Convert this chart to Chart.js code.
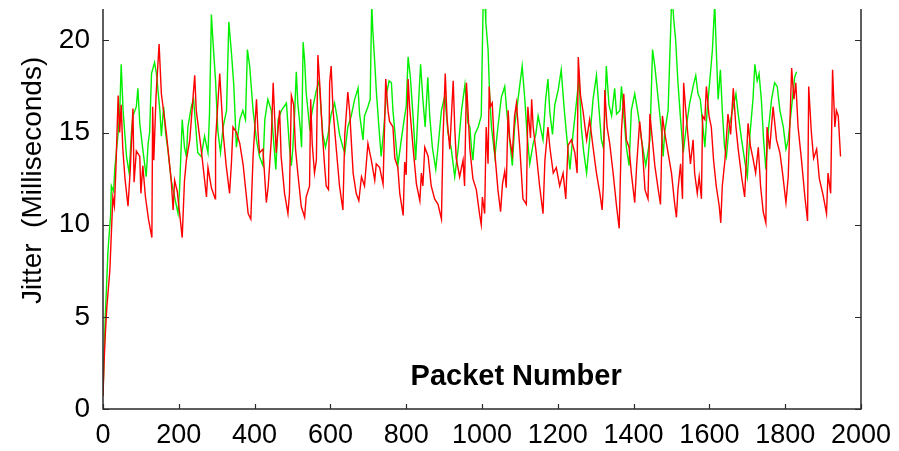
<!DOCTYPE html>
<html>
<head>
<meta charset="utf-8">
<script src="https://cdn.jsdelivr.net/npm/chart.js@4/dist/chart.umd.min.js"></script>
<style>
  html, body { margin: 0; padding: 0; background: #fff; }
  #wrap { width: 899px; height: 451px; position: relative; }
</style>
</head>
<body>
<div id="wrap"><canvas id="jitterChart"></canvas></div>
<script>
// axis ticks
const xTicks = [0, 200, 400, 600, 800, 1000, 1200, 1400, 1600, 1800, 2000];
const yTicks = [0, 5, 10, 15, 20];

// red series (packet number, jitter ms)
const redPackets = [0,3,6,10,14,18,22,26,30,34,40,44,48,52,58,66,72,79,82,88,97,100,105,112,120,129,131,134,140,148,154,167,180,185,189,196,209,215,220,229,242,246,259,273,277,286,296,297,308,317,325,334,339,343,352,361,370,383,390,396,405,409,413,422,431,436,444,449,453,457,466,470,479,488,
  492,497,503,508,514,523,532,536,545,548,552,558,563,567,572,579,585,589,595,598,602,607,616,624,633,638,646,651,655,660,668,675,682,690,699,708,717,721,730,739,746,752,756,765,770,778,783,792,796,800,805,809,818,827,836,840,844,849,858,866,875,884,893,897,903,908,915,924,928,932,941,950,954,959,963,968,976,985,994,
  998,1001,1007,1011,1016,1019,1022,1027,1033,1042,1049,1054,1060,1064,1069,1073,1080,1086,1091,1100,1108,1117,1121,1128,1131,1135,1143,1152,1161,1166,1174,1179,1188,1196,1205,1214,1221,1227,1236,1245,1251,1254,1260,1267,1276,1284,1293,1302,1311,1317,1320,1324,1330,1337,1346,1355,1362,1368,1374,1381,1388,1394,1403,1408,1416,1423,1430,1438,1443,1450,1456,1465,1471,1476,1482,1491,
  1500,1508,1513,1517,1524,1529,1532,1538,1544,1550,1557,1561,1568,1573,1579,1582,1588,1592,1599,1605,1611,1618,1626,1630,1634,1641,1649,1656,1663,1670,1676,1685,1693,1702,1708,1715,1722,1729,1735,1742,1749,1752,1759,1768,1777,1786,1793,1802,1808,1817,1823,1828,1834,1843,1852,1859,1862,1869,1875,1883,1890,1900,1909,1913,1920,1925,1931,1935,1940,1946];
const redJitter = [0.7,2.6,4,5.5,6.5,7.5,9.5,11.5,11,13,17,15,16.5,14.2,12.5,11,13,16.3,12.3,14,13.7,11.7,13.2,11.5,10.3,9.3,16.4,13.5,17,19.8,17.1,15,12.4,10.8,12.4,11.8,9.3,12.4,13.5,14.6,18.1,16.2,14.1,11.5,13.1,12,11.4,14.6,18.2,15,13.2,11.7,13.4,15.3,15,14.4,13.2,10.6,10.3,13.7,16.8,15,13.9,14.1,11.2,12.1,14.6,17.7,15.8,13.9,16.2,13.7,11.7,10.6,
  11.7,17,16.5,14.1,12.8,11,10.4,11.5,12.1,16.8,14.4,12.8,13.5,19.2,17.6,14.9,13.1,12.1,11.9,17.7,18.6,16.2,14,12.1,10.8,14.9,17.2,16.1,14.6,12.8,11.7,11.3,12.6,12.1,14.4,13.5,12.4,13.3,13.1,12.2,17.9,16.2,15.6,15.3,13.6,13.1,11.7,10.5,13.4,12.7,17.9,16.4,14.2,12.2,11.3,12.8,12.1,14.2,13.7,12.1,11.4,11.1,10.3,14.6,18.2,15.7,14.1,17.8,15.3,13.6,12.6,13.5,12.1,17.7,16.2,14.1,12.5,11.9,10.5,
  10,11.5,10.6,15.3,13.3,17.5,16.4,16.6,14.1,11.9,10.7,12.2,12.9,12,16.2,14.7,13.8,15.9,16.6,14.1,11.4,11.1,16.4,14.7,16.8,15.3,13.9,12.1,10.6,13.5,15.3,14.2,12.8,13.1,12.1,12.8,11.4,14.3,14.6,13.9,12.8,19.1,17,16.1,14.6,15.7,14.2,12.8,11.7,10.8,12.1,17.3,15.3,14.4,12.8,11,9.8,15.1,17.1,14.6,14.2,12.8,11.2,13.2,15.6,14.2,11.9,11.4,16,14.5,13.2,11.9,11.1,15.9,15,13.9,
  12.8,11.2,10.4,11.9,13.3,11.4,17.7,16.1,14.7,13.3,14.6,12.8,11.7,12.6,11.4,15.9,15.7,17.5,15.9,15.3,13.5,12.1,11,10.1,12.1,13.5,16,14.9,17.4,15.3,14.1,12.6,11.5,15.5,14.3,13.6,12.8,14.2,12.1,10.7,10.1,15.3,14.1,16.4,14.6,13.9,12.8,11.2,12.6,18.5,16.8,17.7,15.3,13.5,11.5,10.2,17.5,15,13.6,14.1,12.5,11.6,10.6,12.8,11.7,18.4,15.3,16.2,15.9,13.7];

// green series (packet number, jitter ms)
const greenPackets = [0,3,6,9,13,16,20,22,28,31,35,40,44,48,53,62,69,75,79,88,92,97,105,114,119,123,128,136,141,150,154,160,165,171,180,189,198,202,209,215,220,224,233,239,244,250,259,268,277,281,286,290,297,303,310,317,326,332,339,345,352,361,369,376,381,387,396,405,413,422,427,435,444,456,462,471,484,492,497,501,506,510,514,521,524,528,532,536,545,554,563,570,576,580,587,594,602,611,617,624,633,638,646,655,664,673,677,686,690,699,705,709,712,717,721,728,734,740,748,755,761,765,772,778,787,796,800,805,811,818,825,831,838,844,850,857,862,869,878,884,893,902,910,919,928,937,946,955,963,968,972,976,981,990,998,
  1003,1008,1010,1016,1020,1025,1034,1042,1051,1060,1066,1073,1080,1086,1095,1106,1113,1119,1126,1135,1142,1148,1154,1161,1168,1174,1179,1186,1192,1201,1209,1216,1223,1232,1240,1247,1256,1262,1268,1276,1284,1293,1302,1309,1315,1320,1324,1328,1335,1342,1350,1355,1364,1368,1374,1381,1388,1394,1403,1412,1421,1432,1443,1450,1456,1465,1474,1478,1482,1491,
  1500,1503,1506,1511,1517,1524,1531,1539,1548,1557,1564,1570,1576,1583,1588,1594,1601,1608,1614,1618,1623,1629,1634,1640,1645,1652,1661,1670,1676,1685,1693,1700,1707,1715,1720,1726,1731,1737,1743,1749,1755,1764,1772,1779,1786,1795,1802,1808,1817,1825,1830];
const greenJitter = [0.7,3,5,6.5,8.5,9.4,10.5,12.1,11.8,13,13.9,15,16,18.7,16.2,13.7,12.8,15,15.9,16.4,17.4,15.5,14.1,12.6,14.4,15,18.2,18.8,18.2,16.2,14.8,16.4,15,14.1,12.4,11.5,10.6,11.9,15.7,14.2,13.7,15.3,16.4,16.8,15.5,13.9,13.7,14.8,13.9,16,21.4,20,17.8,15.1,13.9,15.3,16.2,21,19.3,17.6,14.2,15.7,16.2,15.7,19.5,18.6,16.2,14.6,13.7,13.2,15.7,16.8,16.2,13,15.7,16.2,16.6,14.2,13.2,14.2,16.2,18.3,16.6,15.1,14.2,19.9,18.9,17.2,15.3,16.4,17.3,17.8,16,14.9,14.2,14.9,16,16.6,15.9,14.9,14.2,13.9,15.3,15.9,16.8,17.4,16,14.6,15.9,16.4,16.8,22,20.5,18.8,17.3,15.3,13.7,15,17.1,17.8,17.7,16.2,14.6,13.2,14.6,15.9,16.4,19.1,18,15.9,13.5,16,18.7,16.8,15.3,18,15.9,14.2,13,14.2,16.2,17,15,14.1,12.6,14.1,16.2,17.6,15.5,15.3,14.2,13.5,14.9,15.3,15.9,
  22,22,21,19.5,17.1,15.3,13.7,15.3,16.9,17.5,16,14.6,13.2,15.3,16.8,18.6,16.8,14.9,13.3,14.4,14.9,15.9,15.3,14.6,16.8,17.9,16.1,14.9,16.5,17.3,18.4,16.5,14.9,13,14.9,16.2,18,15.3,14,12.8,14.6,16.8,18.1,16.2,14.6,14.2,15.9,18.6,16.5,15.9,17.4,16,16.2,17.5,16,14.2,13.2,16.2,17.1,16,14.6,13.2,14.6,19.5,18.6,16.8,15,13.7,15,16.2,
  22,22,21.1,20,17.7,15.7,13.9,15.3,16.6,17.5,18.1,17.1,16.8,15.3,14.2,16.2,17.8,19.5,22,19.6,16.8,18.4,16.2,14.2,13.7,15.3,16.2,17.1,16,14.6,13.5,12.6,14.9,16.8,18.7,17.8,18.2,16.8,14.6,13,15,16.8,17.7,17.5,16.2,15.3,14.1,14.6,16.4,18,18.3];

const toPoints = (xs, ys) => xs.map((v, i) => ({ x: v, y: ys[i] }));

const FONT = "'Liberation Sans', Arial, Helvetica, sans-serif";

// 軸線・内向き目盛・軸タイトルを描く
const framePlugin = {
  id: 'frame',
  afterDatasetsDraw(chart) {
    const { ctx, chartArea: { left, right, top, bottom }, scales: { x, y } } = chart;
    ctx.save();
    ctx.strokeStyle = '#2a2a2a';
    ctx.lineWidth = 1.5;
    ctx.beginPath();
    ctx.moveTo(left, top); ctx.lineTo(left, bottom); ctx.lineTo(right, bottom); ctx.lineTo(right, top);
    ctx.stroke();
    ctx.lineWidth = 1.2;
    ctx.beginPath();
    yTicks.forEach(v => {
      const py = Math.round(y.getPixelForValue(v)) + 0.5;
      ctx.moveTo(left, py); ctx.lineTo(left + 6, py);
      ctx.moveTo(right, py); ctx.lineTo(right - 6, py);
    });
    xTicks.forEach(v => {
      const px = Math.round(x.getPixelForValue(v)) + 0.5;
      ctx.moveTo(px, bottom); ctx.lineTo(px, bottom - 5);
    });
    ctx.stroke();

    ctx.fillStyle = '#000';
    ctx.font = 'bold 29px ' + FONT;
    ctx.textAlign = 'center';
    ctx.textBaseline = 'alphabetic';
    ctx.fillText('Packet Number', x.getPixelForValue(1090), y.getPixelForValue(1.3));

    ctx.font = '28px ' + FONT;
    ctx.translate(41, y.getPixelForValue(12.4));
    ctx.rotate(-Math.PI / 2);
    ctx.fillText('Jitter  (Milliseconds)', 0, 0);
    ctx.restore();
  }
};

new Chart(document.getElementById('jitterChart'), {
  type: 'line',
  data: {
    datasets: [
      {
        label: 'red',
        data: toPoints(redPackets, redJitter),
        borderColor: '#ff0000',
        borderWidth: 1.4,
        pointRadius: 0,
        tension: 0,
        fill: false
      },
      {
        label: 'green',
        data: toPoints(greenPackets, greenJitter),
        borderColor: '#00f000',
        borderWidth: 1.4,
        pointRadius: 0,
        tension: 0,
        fill: false
      }
    ]
  },
  options: {
    responsive: true,
    maintainAspectRatio: false,
    animation: false,
    events: [],
    layout: { padding: { left: 0, top: 9, right: 38, bottom: 0 } },
    plugins: {
      legend: { display: false },
      tooltip: { enabled: false },
      title: { display: false }
    },
    scales: {
      x: {
        type: 'linear',
        min: 0,
        max: 2000,
        afterBuildTicks: s => { s.ticks = xTicks.map(v => ({ value: v })); },
        afterFit: s => { s.height = 42; s.paddingLeft = 0; s.paddingRight = 0; },
        grid: { display: false, drawTicks: false },
        border: { display: false },
        ticks: { color: '#000', padding: 10, maxRotation: 0, autoSkip: false, callback: v => String(v), font: { family: FONT, size: 27 } }
      },
      y: {
        type: 'linear',
        min: 0,
        max: 21.7,
        afterBuildTicks: s => { s.ticks = yTicks.map(v => ({ value: v })); },
        afterFit: s => { s.width = 103; s.paddingTop = 0; s.paddingBottom = 0; },
        grid: { display: false, drawTicks: false },
        border: { display: false },
        ticks: { color: '#000', padding: 13, callback: v => String(v), font: { family: FONT, size: 28 } }
      }
    }
  },
  plugins: [framePlugin]
});
</script>
</body>
</html>
